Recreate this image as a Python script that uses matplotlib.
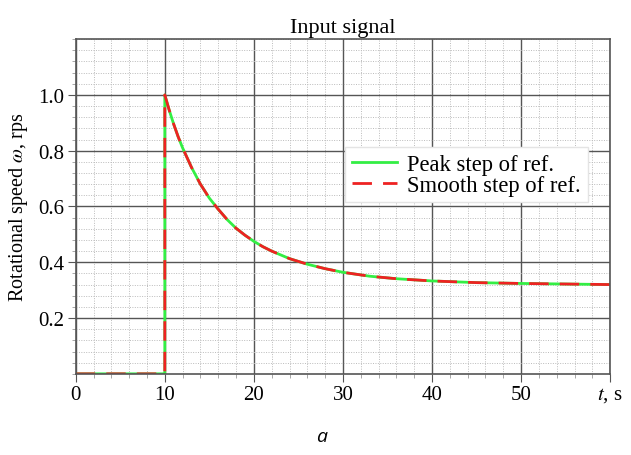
import matplotlib
matplotlib.use("Agg")
import matplotlib.pyplot as plt
from matplotlib.ticker import MultipleLocator

# values
t = [0, 10, 10, 10.5, 11, 11.5, 12, 13, 14, 15, 16, 17, 18, 19, 20, 21, 22,
     24, 26, 28, 30, 33, 36, 40, 45, 50, 55, 60]
omega = [0, 0, 1.0, 0.945, 0.895, 0.85, 0.81, 0.74, 0.68, 0.63, 0.59, 0.553,
         0.522, 0.497, 0.475, 0.456, 0.44, 0.413, 0.393, 0.377, 0.364, 0.35,
         0.341, 0.333, 0.327, 0.324, 0.322, 0.32]
xticks = [0, 10, 20, 30, 40, 50, 60]
xlabels = ['0', '10', '20', '30', '40', '50', '$t$, s']
yticks = [0.2, 0.4, 0.6, 0.8, 1.0]
ylabels = ['0.2', '0.4', '0.6', '0.8', '1.0']

plt.rcParams['font.family'] = ['Liberation Serif', 'DejaVu Serif']
plt.rcParams['mathtext.fontset'] = 'stix'

fig = plt.figure(figsize=(6.31, 4.56), dpi=100)
ax = fig.add_axes([0.120, 0.178, 0.847, 0.734])

ax.plot(t, omega, color='#33ee44', lw=2, label='Peak step of ref.')
ax.plot(t, omega, color='#ee2222', lw=2, dashes=(7, 4), label='Smooth step of ref.')

ax.set_xlim(0, 60)
ax.set_ylim(0, 1.2)
ax.set_xticks(xticks)
ax.set_xticklabels(xlabels)
ax.set_yticks(yticks)
ax.set_yticklabels(ylabels)
ax.xaxis.set_minor_locator(MultipleLocator(2))
ax.yaxis.set_minor_locator(MultipleLocator(0.04))

ax.grid(which='major', color='#555555', lw=1.0)
ax.grid(which='minor', color='#bbbbbb', lw=0.7, ls=(0, (1, 1.5)))
ax.set_axisbelow(True)
for s in ax.spines.values():
    s.set_color('#555555')
    s.set_linewidth(1.2)
ax.tick_params(which='major', length=6, color='#555555', labelsize=15, pad=2)
ax.tick_params(which='minor', length=3, color='#999999')

ax.set_title('Input signal', fontsize=16, pad=5)
ax.set_ylabel('Rotational speed $\\omega$, rps', fontsize=14.5, labelpad=6)

ax.legend(loc='upper left', bbox_to_anchor=(0.504, 0.678), borderaxespad=0,
          fontsize=16.3, frameon=True, fancybox=False, edgecolor='#e4e4e4',
          framealpha=1, handlelength=2.0, handletextpad=0.45, borderpad=0.3,
          labelspacing=0.0)

fig.text(0.509, 0.042, 'a', fontsize=14, style='italic', family='Open Sans',
         ha='center', va='center')

fig.savefig('out.png', dpi=100)
